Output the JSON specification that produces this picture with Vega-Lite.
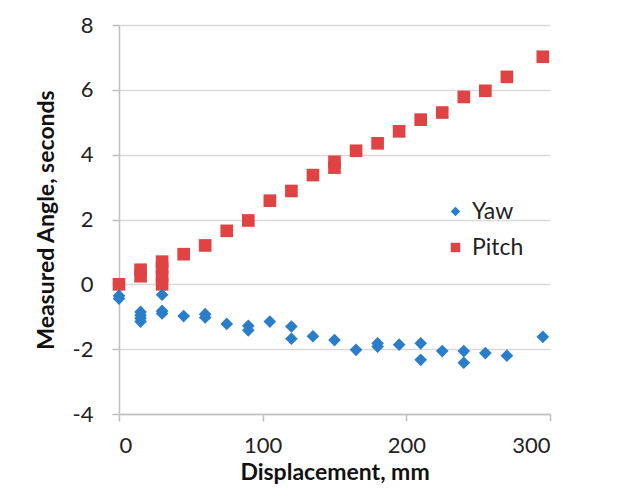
{
  "$schema": "https://vega.github.io/schema/vega-lite/v6.json",
  "width": 431,
  "height": 389,
  "autosize": {"type": "none"},
  "padding": {"left": 119, "top": 25, "right": 67, "bottom": 74},
  "background": "white",
  "config": {
    "view": {"stroke": null},
    "font": "Lato"
  },
  "data": {
    "values": [
      {"series": "Pitch", "x": 0, "y": 0.0},
      {"series": "Pitch", "x": 15, "y": 0.25},
      {"series": "Pitch", "x": 15, "y": 0.45},
      {"series": "Pitch", "x": 30, "y": 0.0},
      {"series": "Pitch", "x": 30, "y": 0.25},
      {"series": "Pitch", "x": 30, "y": 0.5},
      {"series": "Pitch", "x": 30, "y": 0.7},
      {"series": "Pitch", "x": 45, "y": 0.93},
      {"series": "Pitch", "x": 60, "y": 1.2},
      {"series": "Pitch", "x": 75, "y": 1.65},
      {"series": "Pitch", "x": 90, "y": 1.97},
      {"series": "Pitch", "x": 105, "y": 2.58},
      {"series": "Pitch", "x": 120, "y": 2.88},
      {"series": "Pitch", "x": 135, "y": 3.37},
      {"series": "Pitch", "x": 150, "y": 3.6},
      {"series": "Pitch", "x": 150, "y": 3.78},
      {"series": "Pitch", "x": 165, "y": 4.12},
      {"series": "Pitch", "x": 180, "y": 4.35},
      {"series": "Pitch", "x": 195, "y": 4.72},
      {"series": "Pitch", "x": 210, "y": 5.08},
      {"series": "Pitch", "x": 225, "y": 5.3},
      {"series": "Pitch", "x": 240, "y": 5.78},
      {"series": "Pitch", "x": 255, "y": 5.97},
      {"series": "Pitch", "x": 270, "y": 6.4},
      {"series": "Pitch", "x": 295, "y": 7.02},
      {"series": "Yaw", "x": 0, "y": -0.44},
      {"series": "Yaw", "x": 0, "y": -0.35},
      {"series": "Yaw", "x": 15, "y": -0.85},
      {"series": "Yaw", "x": 15, "y": -0.95},
      {"series": "Yaw", "x": 15, "y": -1.05},
      {"series": "Yaw", "x": 15, "y": -1.15},
      {"series": "Yaw", "x": 30, "y": -0.32},
      {"series": "Yaw", "x": 30, "y": -0.82},
      {"series": "Yaw", "x": 30, "y": -0.9},
      {"series": "Yaw", "x": 45, "y": -0.98},
      {"series": "Yaw", "x": 60, "y": -0.92},
      {"series": "Yaw", "x": 60, "y": -1.02},
      {"series": "Yaw", "x": 75, "y": -1.22},
      {"series": "Yaw", "x": 90, "y": -1.28},
      {"series": "Yaw", "x": 90, "y": -1.42},
      {"series": "Yaw", "x": 105, "y": -1.15},
      {"series": "Yaw", "x": 120, "y": -1.3},
      {"series": "Yaw", "x": 120, "y": -1.68},
      {"series": "Yaw", "x": 135, "y": -1.6},
      {"series": "Yaw", "x": 150, "y": -1.72},
      {"series": "Yaw", "x": 165, "y": -2.02},
      {"series": "Yaw", "x": 180, "y": -1.82},
      {"series": "Yaw", "x": 180, "y": -1.92},
      {"series": "Yaw", "x": 195, "y": -1.86},
      {"series": "Yaw", "x": 210, "y": -1.82},
      {"series": "Yaw", "x": 210, "y": -2.33},
      {"series": "Yaw", "x": 225, "y": -2.06},
      {"series": "Yaw", "x": 240, "y": -2.06},
      {"series": "Yaw", "x": 240, "y": -2.42},
      {"series": "Yaw", "x": 255, "y": -2.12},
      {"series": "Yaw", "x": 270, "y": -2.2},
      {"series": "Yaw", "x": 295, "y": -1.62}
    ]
  },
  "mark": {"type": "point", "filled": true, "opacity": 1, "size": 160},
  "encoding": {
    "x": {
      "field": "x", "type": "quantitative",
      "scale": {"domain": [0, 300], "nice": false, "zero": false},
      "axis": {
        "title": "Displacement, mm",
        "values": [0, 100, 200, 300],
        "grid": false,
        "domainColor": "#bfbfbf", "domainWidth": 1.5,
        "tickColor": "#bfbfbf", "tickWidth": 1.5, "tickSize": 7,
        "labelFontSize": 22, "labelColor": "#222222", "labelPadding": 14,
        "titleFontSize": 23, "titleFontWeight": "bold", "titleColor": "#111111",
        "titlePadding": 5
      }
    },
    "y": {
      "field": "y", "type": "quantitative",
      "scale": {"domain": [-4, 8], "nice": false, "zero": false},
      "axis": {
        "title": "Measured Angle, seconds",
        "values": [-4, -2, 0, 2, 4, 6, 8],
        "labelExpr": "toString(datum.value)",
        "grid": true, "gridColor": "#d9d9d9", "gridWidth": 1.5,
        "domainColor": "#bfbfbf", "domainWidth": 1.5,
        "tickColor": "#bfbfbf", "tickWidth": 1.5, "tickSize": 7,
        "labelFontSize": 22, "labelColor": "#222222", "labelPadding": 19,
        "titleFontSize": 23, "titleFontWeight": "bold", "titleColor": "#111111",
        "titlePadding": 14
      }
    },
    "color": {
      "field": "series", "type": "nominal",
      "scale": {"domain": ["Yaw", "Pitch"], "range": ["#2a7dc9", "#e04343"]},
      "legend": {
        "title": null,
        "orient": "none",
        "legendX": 325,
        "legendY": 175,
        "labelFontSize": 23,
        "labelColor": "#222222",
        "symbolSize": 90,
        "rowPadding": 12,
        "labelOffset": 5
      }
    },
    "shape": {
      "field": "series", "type": "nominal",
      "scale": {"domain": ["Yaw", "Pitch"], "range": ["diamond", "square"]},
      "legend": null
    }
  }
}
